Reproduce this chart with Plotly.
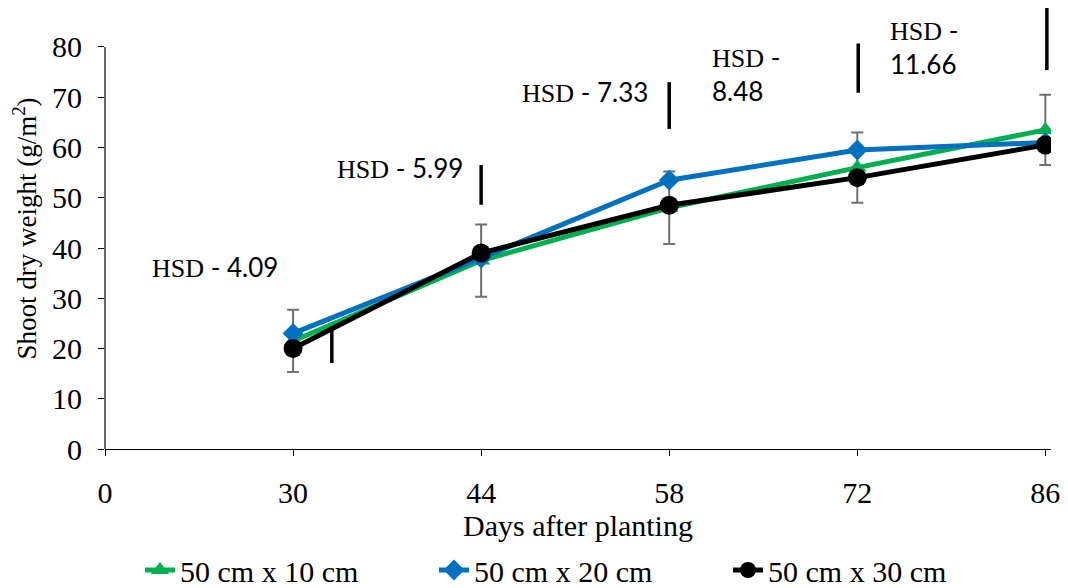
import plotly.graph_objects as go

# ---- data ----
days = ["0", "30", "44", "58", "72", "86"]
pos = [1, 2, 3, 4, 5]           # category positions of 30..86 (0 is the origin label)
tick_pos = [0, 1, 2, 3, 4, 5]

s10 = [21.5, 37.5, 48.0, 56.0, 63.5]
s10_err = [6.2, 7.2, 7.2, 7.0, 7.0]
s20 = [23.0, 38.0, 53.5, 59.5, 61.0]
s30 = [20.0, 39.0, 48.5, 54.0, 60.5]

names = ["50 cm x 10 cm", "50 cm x 20 cm", "50 cm x 30 cm"]

hsd_text = ["HSD - 4.09", "HSD - 5.99", "HSD - 7.33", "HSD -<br>8.48", "HSD -<br>11.66"]
hsd_x = [1.206, 2.0, 3.0, 4.005, 5.008]
hsd_lo = [17.1, 48.6, 63.7, 70.9, 75.4]
hsd_hi = [23.7, 56.5, 73.0, 80.7, 88.2]
lab_x = [0.585, 1.566, 2.553, 3.218, 4.165]
lab_y = [36.2, 55.9, 71.0, 74.6, 80.0]
lab_anchor = ["center", "center", "center", "left", "left"]

GREEN = "#00B050"
BLUE = "#0070C0"
BLACK = "#000000"
SERIF = "Liberation Serif, Times New Roman, serif"
SANS = "Lato, Carlito, sans-serif"

fig = go.Figure()
fig.add_trace(go.Scatter(
    x=pos, y=s10, name=names[0], mode="lines+markers",
    line=dict(color=GREEN, width=5),
    marker=dict(symbol="triangle-up", size=16, color=GREEN),
    error_y=dict(type="data", array=s10_err, visible=True, color="#707070",
                 thickness=2, width=6),
))
fig.add_trace(go.Scatter(
    x=pos, y=s20, name=names[1], mode="lines+markers",
    line=dict(color=BLUE, width=5),
    marker=dict(symbol="diamond", size=16, color=BLUE),
))
fig.add_trace(go.Scatter(
    x=pos, y=s30, name=names[2], mode="lines+markers",
    line=dict(color=BLACK, width=5),
    marker=dict(symbol="circle", size=19, color=BLACK),
))

for xv, lo, hi in zip(hsd_x, hsd_lo, hsd_hi):
    fig.add_shape(type="line", xref="x", yref="y", x0=xv, x1=xv, y0=lo, y1=hi,
                  line=dict(color="black", width=3.5), layer="above")

for t, xv, yv, an in zip(hsd_text, lab_x, lab_y, lab_anchor):
    parts = t.split("HSD", 1)
    txt = '<span style="font-family:Liberation Serif">HSD</span>' + parts[1]
    fig.add_annotation(x=xv, y=yv, xref="x", yref="y", text=txt, showarrow=False,
                       xanchor=an, yanchor="middle", align="left",
                       font=dict(family=SANS, size=26, color="black"))

# y axis line from 0 to 80 only
fig.add_shape(type="line", xref="paper", yref="y", x0=0, x1=0, y0=0, y1=80,
              line=dict(color="black", width=1.2))

fig.update_layout(
    width=1060, height=580,
    margin=dict(l=97, r=17, t=0, b=139, pad=0, autoexpand=False),
    paper_bgcolor="white", plot_bgcolor="white",
    font=dict(family=SERIF, size=30, color="black"),
    showlegend=True,
    legend=dict(orientation="h", x=0.037, y=-0.2744, xanchor="left", yanchor="middle",
                font=dict(family=SERIF, size=30, color="black"),
                entrywidth=249, entrywidthmode="pixels",
                bgcolor="rgba(0,0,0,0)"),
    xaxis=dict(range=[0, 5.03], tickvals=tick_pos, ticktext=days, automargin=False,
               showgrid=False, zeroline=False, showline=True, linecolor="black",
               linewidth=1.2, ticks="outside", ticklen=6, tickcolor="black",
               ticklabelstandoff=11,
               title=dict(text="Days after planting", standoff=6,
                          font=dict(family=SERIF, size=30))),
    yaxis=dict(range=[0, 87.76], tickvals=[0, 10, 20, 30, 40, 50, 60, 70, 80],
               automargin=False,
               showgrid=False, zeroline=False, showline=False,
               ticks="outside", ticklen=6, tickcolor="black",
               ticklabelstandoff=10,
               title=dict(text="Shoot dry weight (g/m<sup>2</sup>)", standoff=9,
                          font=dict(family=SERIF, size=27))),
)

fig.write_html("out.html")
